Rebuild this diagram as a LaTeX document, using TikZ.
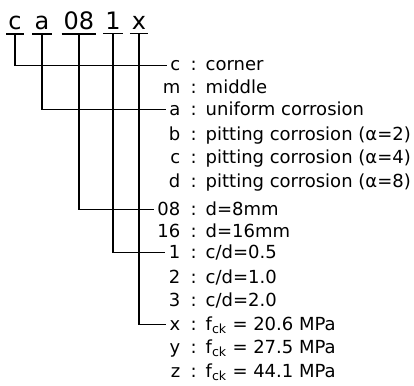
\documentclass[tikz,border=0pt]{standalone}
\usepackage{fontspec}
\setmainfont{DejaVu Sans}
\usetikzlibrary{positioning}

\begin{document}
\begin{tikzpicture}[x=1pt, y=-1pt, line width=1.3pt,
  code/.style={font=\fontsize{24}{24}\selectfont, anchor=base, inner xsep=1.5pt, inner ysep=3pt},
  key/.style={font=\fontsize{18}{18}\selectfont, anchor=base east, inner xsep=3pt, inner ysep=0pt, text height=11pt, text depth=0pt},
  desc/.style={font=\fontsize{18}{18}\selectfont, anchor=base west, inner sep=0pt}]
  \useasboundingbox (0,0) rectangle (414,385);
  % ---------------------------------------------------------------- specimen code
  \node[code] (pos)   at (15,30)  {c};
  \node[code] (corr)  at (42,30)  {a};
  \node[code] (dia)   at (79,30)  {08};
  \node[code] (ratio) at (113,30) {1};
  \node[code] (str)   at (139,30) {x};
  \foreach \n in {pos,corr,dia,ratio,str}
    \draw (\n.south west) -- (\n.south east);
  % ---------------------------------------------------------------- legend rows
  \foreach \i/\y/\k/\t in {1/71/c/corner, 2/93/m/middle, 3/115/a/uniform corrosion,
      4/140/b/pitting corrosion (α=2), 5/163/c/pitting corrosion (α=4),
      6/187/d/pitting corrosion (α=8), 7/215/08/d=8mm, 8/237/16/d=16mm,
      9/258/1/{c/d=0.5}, 10/283/2/{c/d=1.0}, 11/306/3/{c/d=2.0},
      12/330/x/{f\textsubscript{ck} = 20.6 MPa}, 13/353/y/{f\textsubscript{ck} = 27.5 MPa},
      14/377/z/{f\textsubscript{ck} = 44.1 MPa}} {
    \node[key]  (k\i) at (184,\y) {\k};
    \node[desc] (t\i) at (190,\y) {:\enspace\t};
  }
  % ---------------------------------------------------------------- connectors
  \draw (pos.south)   |- (k1.west);
  \draw (corr.south)  |- (k3.west);
  \draw (dia.south)   |- (k7.west);
  \draw (ratio.south) |- (k9.west);
  \draw (str.south)   |- (k12.west);
\end{tikzpicture}
\end{document}
